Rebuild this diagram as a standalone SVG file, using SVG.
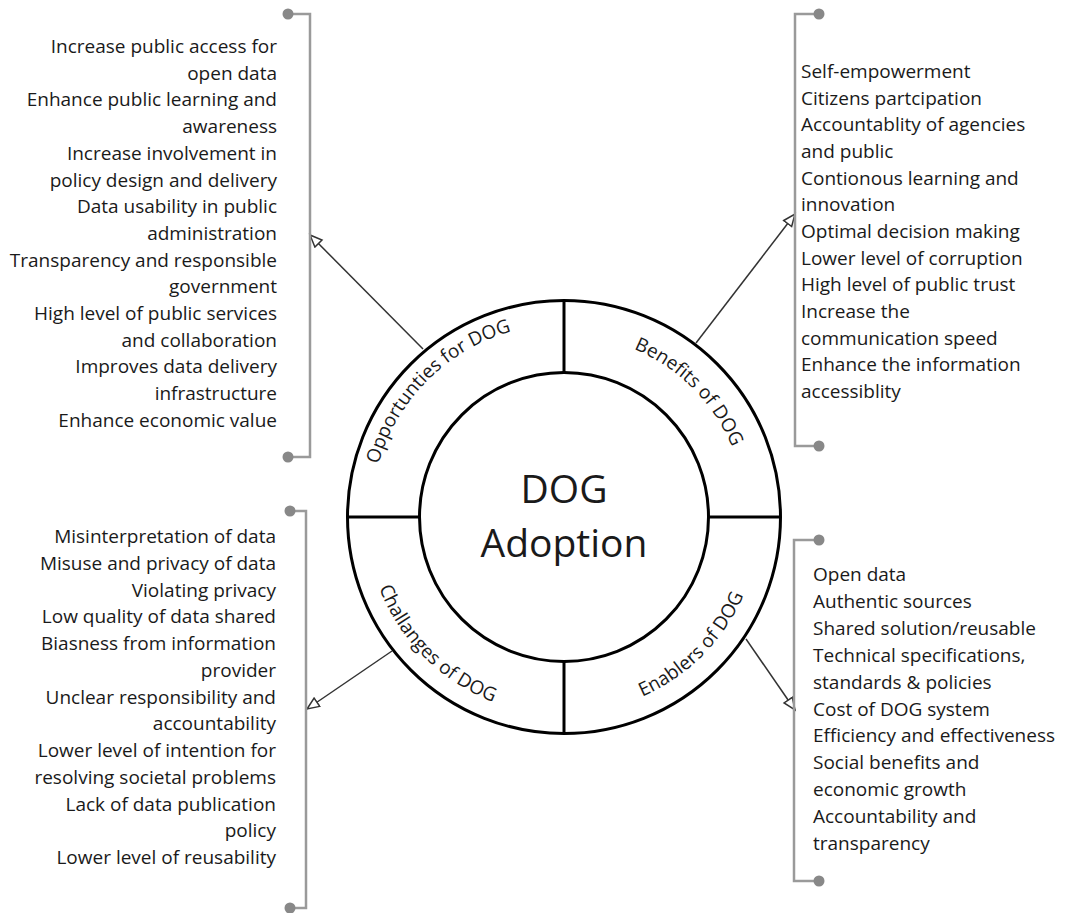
<svg xmlns="http://www.w3.org/2000/svg" width="1074" height="913" viewBox="0 0 1074 913">
<style>
text{font-family:"Open Sans","Noto Sans","DejaVu Sans",sans-serif;font-size:19px;fill:#1a1a1a}
.r{text-anchor:end}
.arc{text-anchor:middle}
.big{font-size:39px;text-anchor:middle}
.ring{fill:none;stroke:#000;stroke-width:3}
.brk{fill:none;stroke:#9a9a9a;stroke-width:2.5}
.dot{fill:#888}
.conn{stroke:#333;stroke-width:1.5;fill:none;marker-end:url(#ah)}
</style>
<defs>
<marker id="ah" markerUnits="userSpaceOnUse" markerWidth="16" markerHeight="14" refX="13" refY="6" orient="auto">
<path d="M1,1 L13,6 L1,11 Z" fill="#fff" stroke="#333" stroke-width="1.5"/>
</marker>
<path id="pOpp" d="M371,517 A193 193 0 0 1 564,324"/>
<path id="pBen" d="M564,335 A182 182 0 0 1 746,517"/>
<path id="pCha" d="M366,517 A198 198 0 0 0 564,715"/>
<path id="pEna" d="M564,713 A196 196 0 0 0 760,517"/>
</defs>
<rect width="1074" height="913" fill="#fff"/>

<g id="connectors">
<line class="conn" x1="423" y1="349" x2="310" y2="235"/>
<line class="conn" x1="696" y1="343" x2="795" y2="214"/>
<line class="conn" x1="392" y1="651" x2="307" y2="709"/>
<line class="conn" x1="746" y1="639" x2="795" y2="710"/>
</g>

<g id="wheel">
<circle class="ring" cx="564" cy="517" r="216.5"/>
<circle class="ring" cx="564" cy="517" r="144.5"/>
<line class="ring" x1="564" y1="300.5" x2="564" y2="372.5"/>
<line class="ring" x1="564" y1="661.5" x2="564" y2="733.5"/>
<line class="ring" x1="347.5" y1="517" x2="419.5" y2="517"/>
<line class="ring" x1="708.5" y1="517" x2="780.5" y2="517"/>
</g>

<g id="center">
<text class="big" x="564" y="503">DOG</text>
<text class="big" x="564" y="557">Adoption</text>
</g>

<g id="seg-opportunities"><text class="arc"><textPath href="#pOpp" startOffset="50%">Opportunties for DOG</textPath></text></g>
<g id="seg-benefits"><text class="arc"><textPath href="#pBen" startOffset="50%">Benefits of DOG</textPath></text></g>
<g id="seg-challenges"><text class="arc"><textPath href="#pCha" startOffset="50%">Challanges of DOG</textPath></text></g>
<g id="seg-enablers"><text class="arc"><textPath href="#pEna" startOffset="50%">Enablers of DOG</textPath></text></g>

<g id="list-opportunities">
<path class="brk" d="M288,14 H310 V457 H288"/>
<circle class="dot" cx="288" cy="14" r="5.5"/>
<circle class="dot" cx="288" cy="457" r="5.5"/>
<text class="r" x="277" y="53">Increase public access for</text>
<text class="r" x="277" y="79.7">open data</text>
<text class="r" x="277" y="106.4">Enhance public learning and</text>
<text class="r" x="277" y="133.1">awareness</text>
<text class="r" x="277" y="159.8">Increase involvement in</text>
<text class="r" x="277" y="186.5">policy design and delivery</text>
<text class="r" x="277" y="213.2">Data usability in public</text>
<text class="r" x="277" y="239.9">administration</text>
<text class="r" x="277" y="266.6">Transparency and responsible</text>
<text class="r" x="277" y="293.3">government</text>
<text class="r" x="277" y="320">High level of public services</text>
<text class="r" x="277" y="346.7">and collaboration</text>
<text class="r" x="277" y="373.4">Improves data delivery</text>
<text class="r" x="277" y="400.1">infrastructure</text>
<text class="r" x="277" y="426.8">Enhance economic value</text>
</g>

<g id="list-benefits">
<path class="brk" d="M819,14 H795 V446 H819"/>
<circle class="dot" cx="819" cy="14" r="5.5"/>
<circle class="dot" cx="819" cy="446" r="5.5"/>
<text x="801" y="78">Self-empowerment</text>
<text x="801" y="104.7">Citizens partcipation</text>
<text x="801" y="131.3">Accountablity of agencies</text>
<text x="801" y="158">and public</text>
<text x="801" y="184.7">Contionous learning and</text>
<text x="801" y="211.4">innovation</text>
<text x="801" y="238">Optimal decision making</text>
<text x="801" y="264.7">Lower level of corruption</text>
<text x="801" y="291.4">High level of public trust</text>
<text x="801" y="318">Increase the</text>
<text x="801" y="344.7">communication speed</text>
<text x="801" y="371.4">Enhance the information</text>
<text x="801" y="398">accessiblity</text>
</g>

<g id="list-challenges">
<path class="brk" d="M290,511 H306 V908 H290"/>
<circle class="dot" cx="290" cy="511" r="5.5"/>
<circle class="dot" cx="290" cy="908" r="5.5"/>
<text class="r" x="276" y="543">Misinterpretation of data</text>
<text class="r" x="276" y="569.8">Misuse and privacy of data</text>
<text class="r" x="276" y="596.5">Violating privacy</text>
<text class="r" x="276" y="623.3">Low quality of data shared</text>
<text class="r" x="276" y="650">Biasness from information</text>
<text class="r" x="276" y="676.8">provider</text>
<text class="r" x="276" y="703.5">Unclear responsibility and</text>
<text class="r" x="276" y="730.3">accountability</text>
<text class="r" x="276" y="757">Lower level of intention for</text>
<text class="r" x="276" y="783.8">resolving societal problems</text>
<text class="r" x="276" y="810.5">Lack of data publication</text>
<text class="r" x="276" y="837.3">policy</text>
<text class="r" x="276" y="864">Lower level of reusability</text>
</g>

<g id="list-enablers">
<path class="brk" d="M819,540 H794 V881 H819"/>
<circle class="dot" cx="819" cy="540" r="5.5"/>
<circle class="dot" cx="819" cy="881" r="5.5"/>
<text x="813" y="581">Open data</text>
<text x="813" y="607.9">Authentic sources</text>
<text x="813" y="634.8">Shared solution/reusable</text>
<text x="813" y="661.7">Technical specifications,</text>
<text x="813" y="688.6">standards &amp; policies</text>
<text x="813" y="715.5">Cost of DOG system</text>
<text x="813" y="742.4">Efficiency and effectiveness</text>
<text x="813" y="769.3">Social benefits and</text>
<text x="813" y="796.2">economic growth</text>
<text x="813" y="823.1">Accountability and</text>
<text x="813" y="850">transparency</text>
</g>
</svg>
